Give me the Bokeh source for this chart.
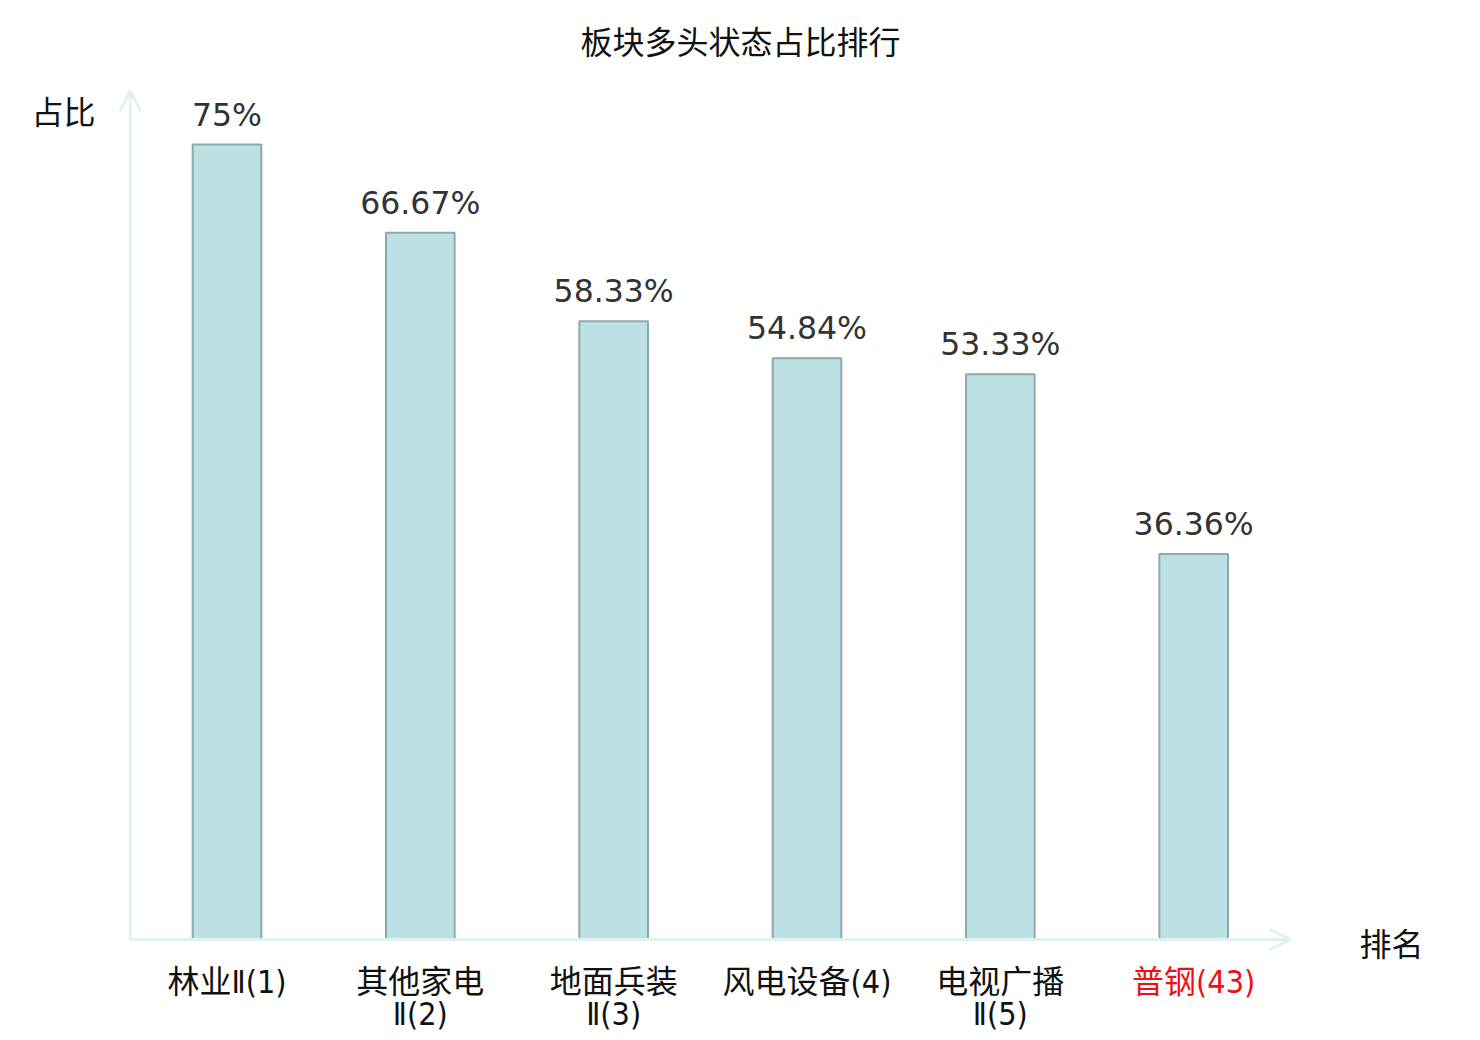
from bokeh.plotting import figure
from bokeh.models import Range1d, ColumnDataSource, Arrow, OpenHead
from bokeh.core.properties import value
from bokeh.embed import file_html
from bokeh.resources import INLINE

# ---- data ----
categories = ["林业Ⅱ", "其他家电Ⅱ", "地面兵装Ⅱ", "风电设备", "电视广播Ⅱ", "普钢"]
ranks = [1, 2, 3, 4, 5, 43]
shares = [75.0, 66.67, 58.33, 54.84, 53.33, 36.36]
value_labels = ["75%", "66.67%", "58.33%", "54.84%", "53.33%", "36.36%"]
tick_line1 = ["林业Ⅱ(1)", "其他家电", "地面兵装", "风电设备(4)", "电视广播", "普钢(43)"]
tick_line2 = ["", "Ⅱ(2)", "Ⅱ(3)", "", "Ⅱ(5)", ""]
tick_colors = ["#111111", "#111111", "#111111", "#111111", "#111111", "#ee1111"]
title_text = "板块多头状态占比排行"
y_name = "占比"
x_name = "排名"

# ---- layout ----
W, H = 1472, 1036
PX_PER_CAT = 193.33
PX_PER_PCT = 10.6
CAT0_PX = 226.5          # x of first category centre
BASE_PX = 939            # y of zero line

x0 = -CAT0_PX / PX_PER_CAT
x1 = x0 + W / PX_PER_CAT
y1 = BASE_PX / PX_PER_PCT
y0 = y1 - H / PX_PER_PCT

def fx(px):
    return x0 + px / PX_PER_CAT

def fy(py):
    return y1 - py / PX_PER_PCT

p = figure(width=W, height=H, x_range=Range1d(x0, x1), y_range=Range1d(y0, y1),
           output_backend="svg", toolbar_location=None, min_border=0)
p.axis.visible = False
p.grid.visible = False
p.outline_line_color = None
p.background_fill_color = "white"
p.border_fill_color = "white"

xs = list(range(len(categories)))
src = ColumnDataSource(dict(x=xs, top=shares, lab=value_labels,
                            t1=tick_line1, t2=tick_line2, tc=tick_colors))

# axes with arrows
axis_color = "#dff2ef"
p.add_layout(Arrow(end=OpenHead(size=21, line_color=axis_color, line_width=3),
                   x_start=-0.5, y_start=0, x_end=5.5, y_end=0,
                   line_color=axis_color, line_width=3))
p.add_layout(Arrow(end=OpenHead(size=21, line_color=axis_color, line_width=3),
                   x_start=-0.5, y_start=0, x_end=-0.5, y_end=fy(90),
                   line_color=axis_color, line_width=3))

p.vbar(x="x", top="top", bottom=0, width=0.355, source=src,
       fill_color="#bce0e3", line_color="#8ea9a9", line_width=2)

p.text(x="x", y="top", text="lab", source=src, y_offset=-30,
       text_align="center", text_baseline="middle",
       text_font=value("DejaVu Sans"), text_font_size="31.5px", text_color="#333333")

tick_font = value("'Liberation Sans Narrow', 'DejaVu Sans Condensed', 'Noto Sans CJK SC'")
p.text(x="x", y=0, text="t1", source=src, y_offset=42,
       text_align="center", text_baseline="middle",
       text_font=tick_font, text_font_size="32px", text_color="tc")
p.text(x="x", y=0, text="t2", source=src, y_offset=74,
       text_align="center", text_baseline="middle",
       text_font=tick_font, text_font_size="32px", text_color="tc")

p.text(x=[fx(740)], y=[fy(39)], text=[title_text], text_align="center",
       text_baseline="middle", text_font=value("Noto Sans CJK SC"),
       text_font_size="32px", text_color="#111111")
p.text(x=[fx(63)], y=[fy(109)], text=[y_name], text_align="center",
       text_baseline="middle", text_font=value("Noto Sans CJK SC"),
       text_font_size="32px", text_color="#111111")
p.text(x=[fx(1391)], y=[fy(941)], text=[x_name], text_align="center",
       text_baseline="middle", text_font=value("Noto Sans CJK SC"),
       text_font_size="32px", text_color="#111111")

open("out.html", "w").write(file_html(p, INLINE))
